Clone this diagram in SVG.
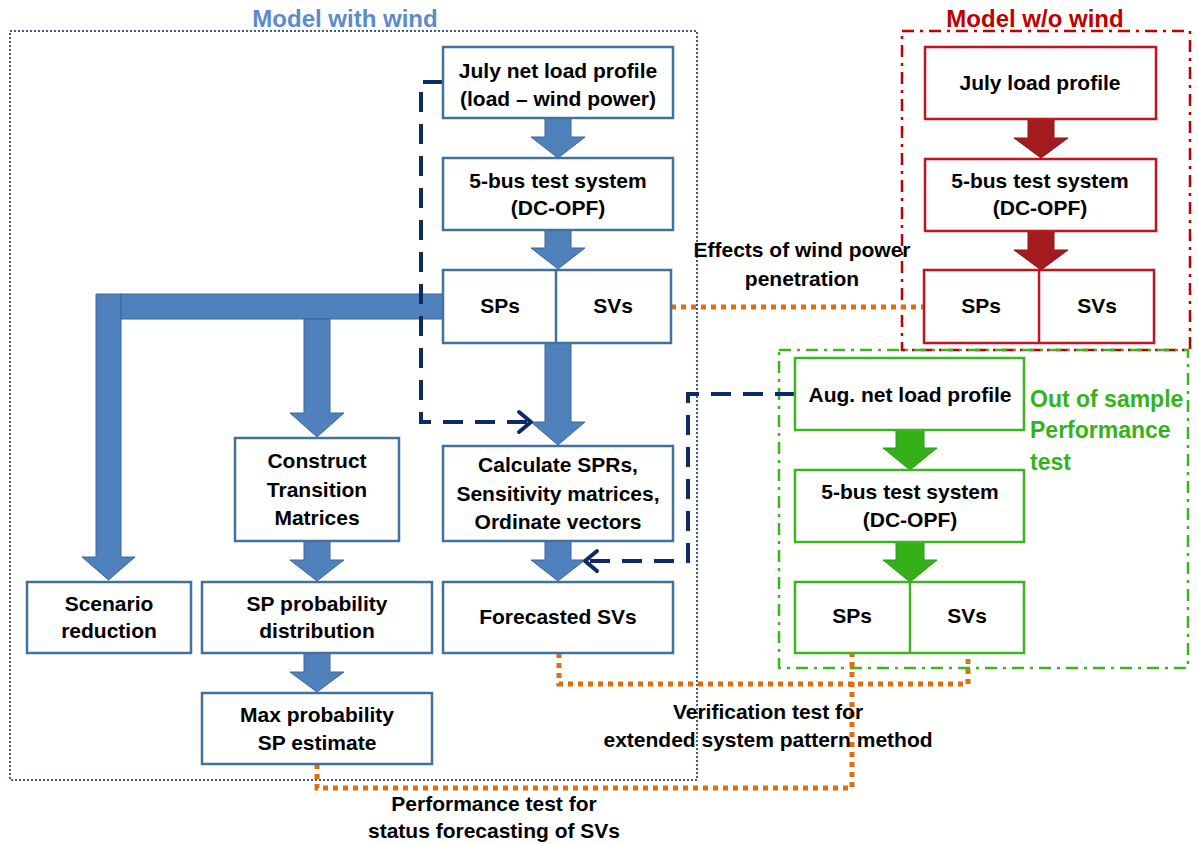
<svg xmlns="http://www.w3.org/2000/svg" width="1198" height="844" viewBox="0 0 1198 844">
<style>
text{font-family:"Liberation Sans",Arial,sans-serif;font-weight:bold;font-size:21px;fill:#000;text-anchor:middle}
.bb{fill:#fff;stroke:#41719C;stroke-width:2.5}
.rb{fill:#fff;stroke:#C0151F;stroke-width:2.5}
.gb{fill:#fff;stroke:#3CB521;stroke-width:2.5}
.ba{fill:#4F81BD;stroke:#3B6896;stroke-width:1}
.ra{fill:#A31A1F;stroke:#8E1418;stroke-width:1}
.ga{fill:#36B019;stroke:#2E9A15;stroke-width:1}
.nv{fill:none;stroke:#0E2A66;stroke-width:4;stroke-dasharray:20 12}
.chev{fill:none;stroke:#0E2A66;stroke-width:4;stroke-linecap:round;stroke-linejoin:round}
.or{fill:none;stroke:#E46C0A;stroke-width:5;stroke-dasharray:5 5}
.ttl{font-size:24px}
</style>
<g id="containers">
<rect x="10" y="31" width="687" height="749" fill="none" stroke="#3F5A8A" stroke-width="2" stroke-dasharray="2 2"/>
<rect x="902" y="31" width="288" height="319" fill="none" stroke="#C00000" stroke-width="2.5" stroke-dasharray="12 6 3 6"/>
<rect x="779" y="350" width="409" height="318" fill="none" stroke="#3CB521" stroke-width="2.5" stroke-dasharray="12 6 3 6"/>
<text class="ttl" x="345" y="27" style="fill:#5B8BC9">Model with wind</text>
<text class="ttl" x="1035" y="27" style="fill:#C00000">Model w/o wind</text>
<text x="1030" y="407" style="fill:#33B31A;text-anchor:start;font-size:23px">Out of sample</text>
<text x="1030" y="438" style="fill:#33B31A;text-anchor:start;font-size:23px">Performance</text>
<text x="1030" y="470" style="fill:#33B31A;text-anchor:start;font-size:23px">test</text>
</g>
<g id="connectors">
<path class="ba" d="M545 118H571V137H585L558 158L531 137H545Z"/>
<path class="ba" d="M545 230H571V248H585L558 269L531 248H545Z"/>
<path class="ba" d="M545 343H571V422H585L558 445L531 422H545Z"/>
<path class="ba" d="M545 541H571V560H585L558 581L531 560H545Z"/>
<path class="ba" d="M96 294H121V557H135L108.5 580L82 557H96Z"/>
<rect class="ba" x="121" y="294" width="322" height="25"/>
<path class="ba" d="M304 319H330V413H344L317 437L290 413H304Z"/>
<path class="ba" d="M304 541H330V560H344L317 581L290 560H304Z"/>
<path class="ba" d="M304 653H330V672H344L317 692L290 672H304Z"/>
<path class="ra" d="M1028 119H1054V138H1068L1041 158L1014 138H1028Z"/>
<path class="ra" d="M1028 231H1054V250H1068L1041 270L1014 250H1028Z"/>
<path class="ga" d="M896 430H924V448H937L910 470L883 448H896Z"/>
<path class="ga" d="M896 542H924V560H937L910 582L883 560H896Z"/>
<path class="nv" d="M443 82H421V422H529"/>
<path class="chev" d="M519 412L531 422L519 432"/>
<path class="nv" d="M795 394H688V561H588"/>
<path class="chev" d="M597 551L585 561L597 571"/>
<path class="or" d="M671 307H924"/>
<path class="or" d="M559 653V684H968V653"/>
<path class="or" d="M317 764V788H852V653"/>
<text x="802" y="257">Effects of wind power</text>
<text x="802" y="286">penetration</text>
<text x="768" y="719">Verification test for</text>
<text x="768" y="747">extended system pattern method</text>
<text x="494" y="811">Performance test for</text>
<text x="494" y="838">status forecasting of SVs</text>
</g>
<g id="july-net-load"><rect class="bb" x="443" y="47" width="230" height="71"/><text x="558" y="78">July net load profile</text><text x="558" y="106">(load – wind power)</text></g>
<g id="bus-wind"><rect class="bb" x="443" y="158" width="230" height="72"/><text x="558" y="188">5-bus test system</text><text x="558" y="215">(DC-OPF)</text></g>
<g id="sps-svs-wind"><rect class="bb" x="443" y="270" width="228" height="73"/><line x1="556" y1="270" x2="556" y2="343" stroke="#41719C" stroke-width="2.5"/><text x="500" y="313">SPs</text><text x="613" y="313">SVs</text></g>
<g id="calculate"><rect class="bb" x="443" y="446" width="230" height="95"/><text x="558" y="472">Calculate SPRs,</text><text x="558" y="501">Sensitivity matrices,</text><text x="558" y="529">Ordinate vectors</text></g>
<g id="forecasted"><rect class="bb" x="443" y="582" width="230" height="71"/><text x="558" y="624">Forecasted SVs</text></g>
<g id="construct"><rect class="bb" x="235" y="438" width="164" height="103"/><text x="317" y="468">Construct</text><text x="317" y="497">Transition</text><text x="317" y="525">Matrices</text></g>
<g id="scenario"><rect class="bb" x="27" y="582" width="164" height="71"/><text x="109" y="611">Scenario</text><text x="109" y="638">reduction</text></g>
<g id="sp-prob"><rect class="bb" x="202" y="582" width="230" height="71"/><text x="317" y="611">SP probability</text><text x="317" y="638">distribution</text></g>
<g id="max-prob"><rect class="bb" x="202" y="693" width="230" height="71"/><text x="317" y="722">Max probability</text><text x="317" y="750">SP estimate</text></g>
<g id="july-load"><rect class="rb" x="925" y="47" width="231" height="72"/><text x="1040" y="90">July load profile</text></g>
<g id="bus-nowind"><rect class="rb" x="925" y="159" width="231" height="72"/><text x="1040" y="188">5-bus test system</text><text x="1040" y="215">(DC-OPF)</text></g>
<g id="sps-svs-nowind"><rect class="rb" x="924" y="270" width="230" height="73"/><line x1="1039" y1="270" x2="1039" y2="343" stroke="#C0151F" stroke-width="2.5"/><text x="981" y="313">SPs</text><text x="1097" y="313">SVs</text></g>
<g id="aug-load"><rect class="gb" x="795" y="358" width="229" height="72"/><text x="910" y="402">Aug. net load profile</text></g>
<g id="bus-aug"><rect class="gb" x="795" y="470" width="229" height="72"/><text x="910" y="499">5-bus test system</text><text x="910" y="527">(DC-OPF)</text></g>
<g id="sps-svs-aug"><rect class="gb" x="795" y="582" width="229" height="71"/><line x1="910" y1="582" x2="910" y2="653" stroke="#3CB521" stroke-width="2.5"/><text x="852" y="623">SPs</text><text x="967" y="623">SVs</text></g>
</svg>
